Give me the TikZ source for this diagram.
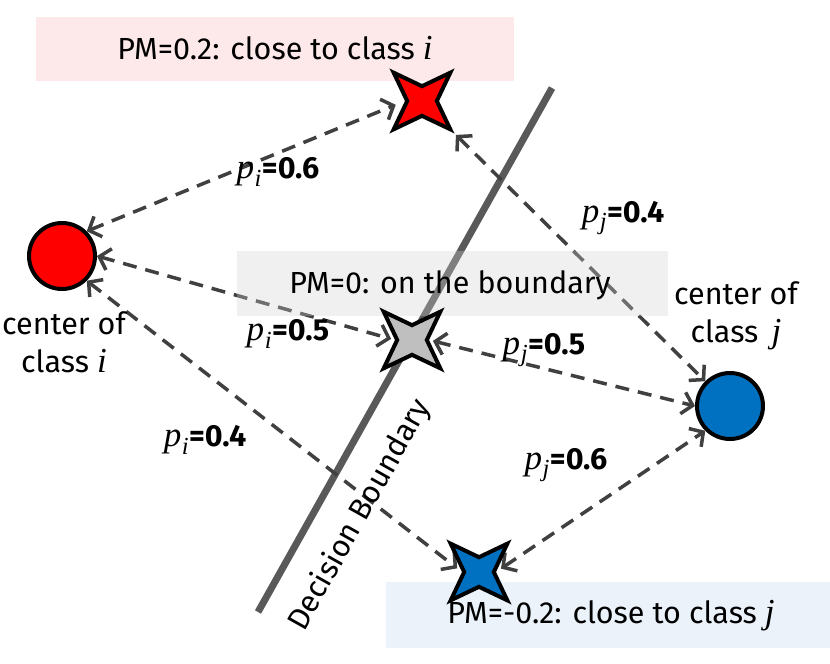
\documentclass[tikz,border=0pt]{standalone}
\usepackage{fontspec}
\setmainfont{Fira Sans}
\newfontfamily\mifont[Scale=1.15]{Liberation Serif}
\newcommand{\mv}[1]{{\mifont\itshape #1}}
\newcommand{\pv}[1]{\mv{p}\kern0.5pt\textsubscript{\mv{#1}}}
\usetikzlibrary{arrows.meta,shapes.geometric}
\definecolor{arrgray}{RGB}{64,64,64}
\definecolor{linegray}{RGB}{89,89,89}
\definecolor{pinkbox}{RGB}{253,233,233}
\definecolor{bluebox}{RGB}{235,242,250}
\definecolor{midbox}{RGB}{209,209,209}
\definecolor{cblue}{RGB}{0,112,192}
\definecolor{sgray}{RGB}{191,191,191}
\pgfdeclarelayer{bg}
\pgfdeclarelayer{mid}
\pgfsetlayers{bg,mid,main}
\begin{document}
\begin{tikzpicture}[x=1pt,y=-1pt,
  txt/.style={font=\fontsize{30.5}{38}\selectfont, inner sep=0pt, align=center},
  dot/.style={circle, draw=black, line width=4pt, minimum size=66pt, inner sep=0pt},
  starn/.style={star, star points=4, shape border rotate=45, star point ratio=2.7,
    minimum size=80pt, inner sep=0pt, draw=black, line width=4pt},
  arr/.style={draw=arrgray, line width=3.5pt, dash pattern=on 14pt off 9pt,
    {Straight Barb[length=10pt,width=22pt]}-{Straight Barb[length=10pt,width=22pt]}}
]
\useasboundingbox (0,0) rectangle (830,664);
\begin{pgfonlayer}{bg}
  \fill[pinkbox] (36,17) rectangle (514,81);
  \fill[bluebox] (386,582) rectangle (830,648);
  \coordinate (b1) at (552,88);
  \coordinate (b2) at (258,612);
  \draw[linegray, line width=7pt] (b1) -- (b2);
\end{pgfonlayer}
% nodes
\node[dot, fill=red] (ri) at (62,256) {};
\node[dot, fill=cblue] (bc) at (730,406) {};
\node[starn, fill=red] (rs) at (422,101) {};
\node[starn, fill=sgray] (gs) at (412,340) {};
\node[starn, fill=cblue] (bs) at (479,572) {};
\begin{pgfonlayer}{mid}
  \draw[arr, shorten >=10pt] (ri.45) -- (rs.180);
  \draw[arr, shorten <=2pt] (rs.-45) -- (bc.135);
  \draw[arr, shorten >=4pt] (ri.0) -- (gs.180);
  \draw[arr, shorten <=4pt] (gs.0) -- (bc.180);
  \draw[arr, shorten >=6pt] (ri.-45) -- (bs.180);
  \draw[arr, shorten <=6pt] (bs.0) -- (bc.225);
  \fill[midbox, fill opacity=0.32] (237,251) rectangle (668,316);
  \node[txt] (t0) at (450,285) {PM=0: on the boundary};
  \node[txt] (t1) at (275,48) {PM=0.2: close to class \mv{i}};
  \node[txt] (t2) at (611,616) {PM=-0.2: close to class \mv{j}};
  \node[txt] (ci) at (64,342) {center of\\class \mv{i}};
  \node[txt] (cj) at (736,316) {center of\\class \,\mv{j}};
  \node[txt, rotate=60.7] (db) at (360,515) {Decision Boundary};
  \node[txt] (l1) at (278,172) {\pv{i}\textbf{=0.6}};
  \node[txt] (l2) at (623,218) {\pv{j}\textbf{=0.4}};
  \node[txt] (l3) at (288,334) {\pv{i}\textbf{=0.5}};
  \node[txt] (l4) at (544,350) {\pv{j}\textbf{=0.5}};
  \node[txt] (l5) at (205,440) {\pv{i}\textbf{=0.4}};
  \node[txt] (l6) at (566,465) {\pv{j}\textbf{=0.6}};
\end{pgfonlayer}
\end{tikzpicture}
\end{document}
